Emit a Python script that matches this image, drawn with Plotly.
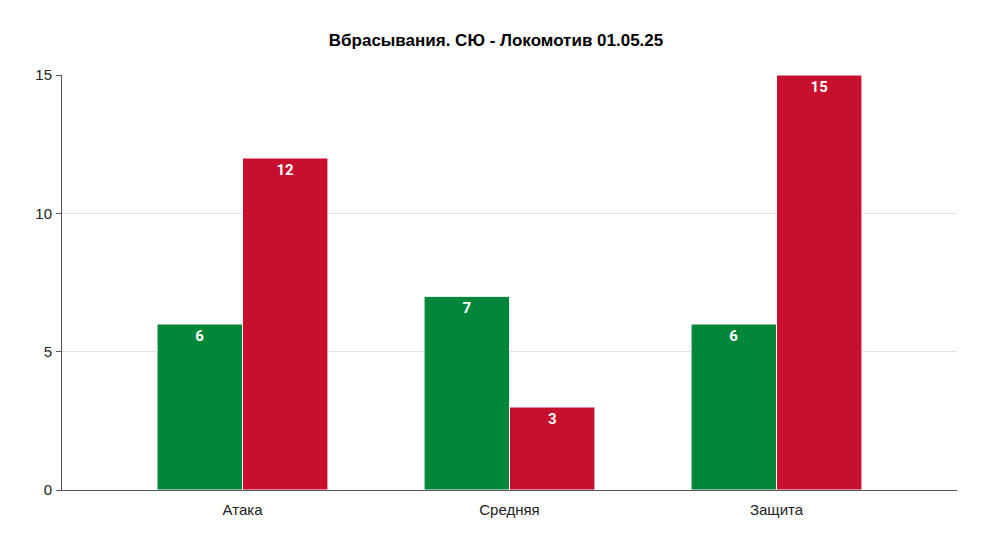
import plotly.graph_objects as go

categories = ['Атака', 'Средняя', 'Защита']
su_values = [6, 7, 6]
loko_values = [12, 3, 15]
y_ticks = [0, 5, 10, 15]

label_font = dict(color='white', size=15, family='Roboto', weight='bold')

fig = go.Figure()
fig.add_trace(go.Bar(x=categories, y=su_values, name='СЮ',
                     marker=dict(color='#00873A', line=dict(color='white', width=1)),
                     text=su_values, textposition='inside', insidetextanchor='end',
                     textfont=label_font, textangle=0))
fig.add_trace(go.Bar(x=categories, y=loko_values, name='Локомотив',
                     marker=dict(color='#C8102E', line=dict(color='white', width=1)),
                     text=loko_values, textposition='inside', insidetextanchor='end',
                     textfont=label_font, textangle=0))

# the page body has an 8px margin, so the figure is shrunk by that much
fig.update_layout(
    width=976, height=537,
    margin=dict(l=54, r=27, t=67, b=55),
    paper_bgcolor='white', plot_bgcolor='white',
    title=dict(text='<b>Вбрасывания. СЮ - Локомотив 01.05.25</b>', x=0.5, xanchor='center',
               y=0.94, yanchor='middle',
               font=dict(family='Liberation Sans', size=17, color='black')),
    barmode='group', bargap=0.36, bargroupgap=0,
    showlegend=False,
    font=dict(family='Liberation Sans', size=15, color='#222'),
    xaxis=dict(range=[-0.676, 2.676], showline=True, linecolor='#555', linewidth=1,
               ticks='', showgrid=False, ticklabelstandoff=6),
    yaxis=dict(range=[0, 15], tickvals=y_ticks, showline=True, linecolor='#555', linewidth=1,
               ticks='outside', ticklen=5, tickcolor='#555', gridcolor='#e0e0e0',
               zeroline=False, ticklabelstandoff=1),
    uniformtext=dict(minsize=10, mode='show'),
)

fig.write_html('out.html')
